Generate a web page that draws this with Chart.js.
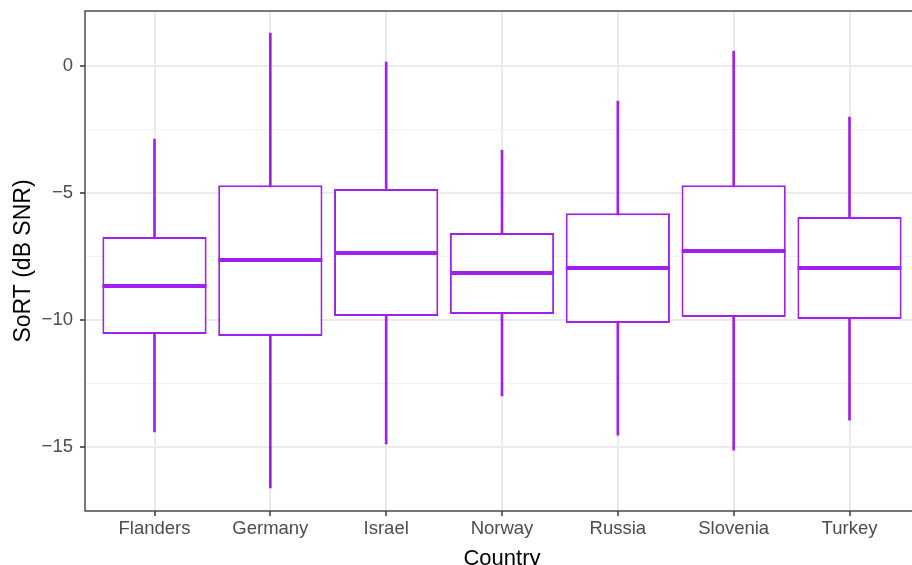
<!DOCTYPE html>
<html>
<head>
<meta charset="utf-8">
<script src="https://cdn.jsdelivr.net/npm/chart.js@4/dist/chart.umd.min.js"></script>
<style>
  html, body { margin: 0; padding: 0; overflow: hidden; background: #fff; }
  #wrap { position: relative; width: 919px; height: 565px; }
</style>
</head>
<body>
<div id="wrap"><canvas id="c"></canvas></div>
<script>
// Speech reception threshold by country: box-plot summary values
const countries   = ['Flanders', 'Germany', 'Israel', 'Norway', 'Russia', 'Slovenia', 'Turkey'];
const whiskerLow  = [-14.41, -16.61, -14.88, -12.99, -14.53, -15.12, -13.94];
const quart1      = [-10.55, -10.63,  -9.84,  -9.76, -10.12,  -9.88,  -9.96];
const medians     = [ -8.66,  -7.64,  -7.36,  -8.15,  -7.95,  -7.28,  -7.95];
const quart3      = [ -6.73,  -4.69,  -4.84,  -6.57,  -5.79,  -4.69,  -5.94];
const whiskerHigh = [ -2.87,   1.30,   0.16,  -3.31,  -1.38,   0.59,  -2.01];

const PURPLE = '#A020F0';
const FONT = "'Liberation Sans', Arial, Helvetica, sans-serif";

const whiskerData = countries.map((c, i) => ({ x: i + 1, y: [whiskerLow[i], whiskerHigh[i]] }));
const boxData     = countries.map((c, i) => ({ x: i + 1, y: [quart1[i], quart3[i]] }));
const medianData  = countries.map((c, i) => ({ x: i + 1, y: medians[i] }));

const isMajor = v => Math.abs(v / 5 - Math.round(v / 5)) < 1e-6;

// panel outline drawn over the data, as in a bordered plotting panel
const panelBorder = {
  id: 'panelBorder',
  afterDraw(chart) {
    const { ctx, chartArea: a } = chart;
    ctx.save();
    ctx.strokeStyle = '#333333';
    ctx.lineWidth = 1.3;
    ctx.strokeRect(a.left, a.top, a.right - a.left, a.bottom - a.top);
    ctx.restore();
  }
};

new Chart(document.getElementById('c'), {
  type: 'bar',
  data: {
    datasets: [
      {
        type: 'line',
        label: 'median',
        data: medianData,
        showLine: false,
        pointStyle: 'line',
        pointRadius: 52,
        pointHoverRadius: 52,
        pointBorderWidth: 4,
        pointHoverBorderWidth: 4,
        borderColor: PURPLE,
        backgroundColor: PURPLE,
        order: 0
      },
      {
        label: 'box',
        data: boxData,
        grouped: false,
        barPercentage: 0.9,
        categoryPercentage: 1.0,
        backgroundColor: '#ffffff',
        borderColor: PURPLE,
        borderWidth: 2,
        borderSkipped: false,
        order: 1
      },
      {
        label: 'whisker',
        data: whiskerData,
        grouped: false,
        barThickness: 2,
        backgroundColor: PURPLE,
        borderWidth: 0,
        order: 2
      }
    ]
  },
  options: {
    responsive: true,
    maintainAspectRatio: false,
    animation: false,
    events: [],
    layout: { autoPadding: false, padding: { top: 11, right: 0, bottom: 0, left: 0 } },
    plugins: { legend: { display: false }, tooltip: { enabled: false } },
    scales: {
      x: {
        type: 'linear',
        min: 0.4,
        max: 7.6,
        offset: false,
        afterFit: s => { s.height = 54; },
        grid: {
          offset: false,
          color: '#EBEBEB',
          lineWidth: 2,
          drawTicks: true,
          tickLength: 5,
          tickColor: '#333333',
          tickWidth: 1.5
        },
        border: { display: false },
        ticks: {
          stepSize: 1,
          includeBounds: false,
          autoSkip: false,
          maxRotation: 0,
          padding: 2,
          color: '#4D4D4D',
          font: { family: FONT, size: 18.5 },
          callback: v => countries[Math.round(v) - 1] ?? ''
        },
        title: {
          display: true,
          text: 'Country',
          color: '#000000',
          font: { family: FONT, size: 22 },
          padding: { top: 0, bottom: -7 }
        }
      },
      y: {
        type: 'linear',
        min: -17.52,
        max: 2.17,
        afterFit: s => { s.width = 85; s.paddingTop = 0; s.paddingBottom = 0; },
        grid: {
          color: ctx => isMajor(ctx.tick.value) ? '#EBEBEB' : '#F2F2F2',
          lineWidth: ctx => isMajor(ctx.tick.value) ? 2 : 1,
          drawTicks: true,
          tickLength: 5,
          tickColor: ctx => isMajor(ctx.tick.value) ? '#333333' : 'rgba(0,0,0,0)',
          tickWidth: 1.5
        },
        border: { display: false },
        ticks: {
          stepSize: 2.5,
          includeBounds: false,
          padding: 7,
          color: '#4D4D4D',
          font: { family: FONT, size: 18.5 },
          callback: v => isMajor(v) ? (v < 0 ? '\u2212' + Math.abs(v) : String(v)) : ''
        },
        title: {
          display: true,
          text: 'SoRT (dB SNR)',
          color: '#000000',
          font: { family: FONT, size: 23 },
          padding: { top: 10, bottom: 0 }
        }
      }
    }
  },
  plugins: [panelBorder]
});
</script>
</body>
</html>
